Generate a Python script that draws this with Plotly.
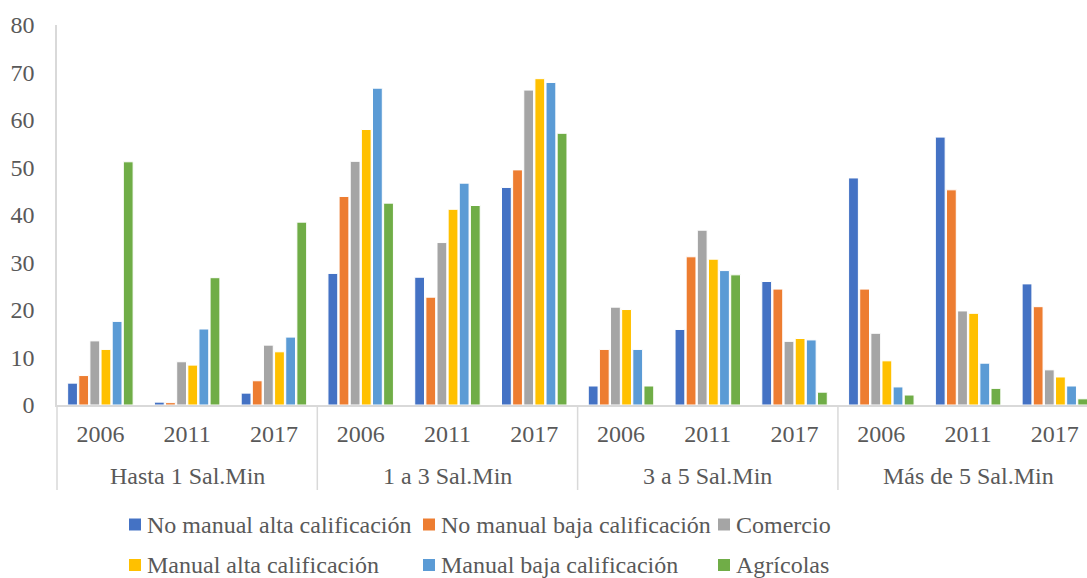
import plotly.graph_objects as go

# Income brackets (outer axis level) and survey years (inner axis level)
groups = ["Hasta 1 Sal.Min", "1 a 3 Sal.Min", "3 a 5 Sal.Min", "Más de 5 Sal.Min"]
years = ["2006", "2011", "2017"]

# Percentages per occupational category, ordered bracket by bracket, year by year
no_manual_alta = [4.6, 0.6, 2.5, 27.7, 26.9, 45.8, 4.0, 15.9, 26.0, 47.8, 56.4, 25.5]
no_manual_baja = [6.2, 0.5, 5.1, 43.9, 22.7, 49.5, 11.7, 31.2, 24.4, 24.4, 45.3, 20.7]
comercio = [13.5, 9.1, 12.6, 51.3, 34.2, 66.3, 20.6, 36.8, 13.4, 15.1, 19.8, 7.4]
manual_alta = [11.7, 8.4, 11.2, 58.0, 41.2, 68.7, 20.1, 30.7, 14.0, 9.3, 19.3, 5.9]
manual_baja = [17.6, 16.0, 14.3, 66.7, 46.7, 67.9, 11.7, 28.3, 13.7, 3.8, 8.8, 4.0]
agricolas = [51.2, 26.8, 38.5, 42.5, 42.0, 57.2, 4.0, 27.4, 2.7, 2.1, 3.5, 1.3]

series_names = [
    "No manual alta calificación",
    "No manual baja calificación",
    "Comercio",
    "Manual alta calificación",
    "Manual baja calificación",
    "Agrícolas",
]
series_values = [no_manual_alta, no_manual_baja, comercio, manual_alta, manual_baja, agricolas]
colors = ["#4472C4", "#ED7D31", "#A5A5A5", "#FFC000", "#5B9BD5", "#70AD47"]

y_ticks = [0, 10, 20, 30, 40, 50, 60, 70, 80]

# one slot per (bracket, year) pair
slot_labels = [y for _ in groups for y in years]
slots = list(range(len(slot_labels)))

W, H = 1087, 578
L, R, T, B = 57, 0, 25, 173
PW, PH = W - L - R, H - T - B
SLOT_PX = 86.77            # horizontal size of one year slot
VISIBLE_SLOTS = PW / SLOT_PX

FONT = "Liberation Serif, Times New Roman, serif"
TXT = "#595959"
AXIS = "#D9D9D9"

fig = go.Figure()
for name, vals, col in zip(series_names, series_values, colors):
    fig.add_trace(go.Bar(
        x=slots, y=vals, name=name,
        marker=dict(color=col, line=dict(color="white", width=1)),
        showlegend=False,
    ))


def px_x(px):
    return (px - L) / PW


def px_y(py):
    return (H - B - py) / PH


def slot_x(pos):
    # paper x of a (fractional) slot position
    return (pos + 0.5) / VISIBLE_SLOTS


shapes = []
annotations = []

# bracket dividers below the axis and bracket labels
n_years = len(years)
for gi, g in enumerate(groups):
    annotations.append(dict(
        xref="paper", yref="paper", x=slot_x(gi * n_years + (n_years - 1) / 2), y=px_y(476),
        xanchor="center", yanchor="middle", showarrow=False,
        text=g, font=dict(family=FONT, size=24, color=TXT),
    ))
for gi in range(len(groups) + 1):
    xb = slot_x(gi * n_years - 0.5)
    if xb > 1.0:
        continue
    shapes.append(dict(
        type="line", xref="paper", yref="paper",
        x0=xb, x1=xb, y0=0, y1=px_y(490),
        line=dict(color=AXIS, width=1.5),
    ))

# legend: colour swatches plus labels in two rows of three
legend_cols = [129, 423, 718]
legend_rows = [524.5, 565]
for i, (name, col) in enumerate(zip(series_names, colors)):
    cx = legend_cols[i % 3]
    cy = legend_rows[i // 3]
    shapes.append(dict(
        type="rect", xref="paper", yref="paper",
        x0=px_x(cx), x1=px_x(cx + 12), y0=px_y(cy + 6), y1=px_y(cy - 6),
        fillcolor=col, line=dict(width=0),
    ))
    annotations.append(dict(
        xref="paper", yref="paper", x=px_x(cx + 16), y=px_y(cy),
        xanchor="left", yanchor="middle", showarrow=False,
        text=name, font=dict(family=FONT, size=24, color=TXT),
    ))

fig.update_layout(
    width=W, height=H,
    margin=dict(l=L, r=R, t=T, b=B, pad=0),
    plot_bgcolor="white", paper_bgcolor="white",
    barmode="group", bargap=0.23, bargroupgap=0.12,
    shapes=shapes, annotations=annotations,
    font=dict(family=FONT, color=TXT),
)
fig.update_xaxes(
    range=[-0.5, -0.5 + VISIBLE_SLOTS],
    tickvals=slots, ticktext=slot_labels,
    showline=True, linecolor=AXIS, linewidth=1.5,
    showgrid=False, zeroline=False, ticks="",
    ticklabelstandoff=6,
    tickfont=dict(family=FONT, size=24, color=TXT),
)
fig.update_yaxes(
    range=[0, 80], tickvals=y_ticks,
    showgrid=False, zeroline=False,
    showline=True, linecolor=AXIS, linewidth=1.5,
    ticks="", ticklabelstandoff=16,
    tickfont=dict(family=FONT, size=24, color=TXT),
)

fig.write_html("out.html")
